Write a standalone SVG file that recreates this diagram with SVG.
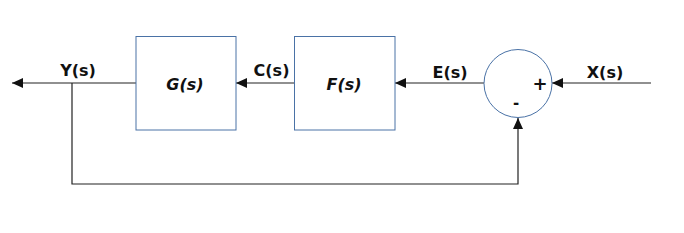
<svg xmlns="http://www.w3.org/2000/svg" width="684" height="233" viewBox="0 0 684 233">
<style>
.blk{fill:#fff;stroke:#4a72a6;stroke-width:1}
.ln{fill:none;stroke:#222;stroke-width:1.2}
.lbl{font-family:"DejaVu Sans",sans-serif;font-weight:bold;font-size:16px;fill:#111;text-anchor:middle}
.it{font-style:italic;font-size:16px}
</style>
<defs>
<marker id="ah" markerWidth="12" markerHeight="10" refX="11" refY="5" orient="auto" markerUnits="userSpaceOnUse">
<path d="M0,0 L11,5 L0,10 Z" fill="#111"/>
</marker>
</defs>
<rect width="684" height="233" fill="#fff"/>
<g id="connectors">
<line class="ln" x1="651" y1="83" x2="552" y2="83" marker-end="url(#ah)"/>
<line class="ln" x1="484" y1="83" x2="395" y2="83" marker-end="url(#ah)"/>
<line class="ln" x1="294" y1="83" x2="236" y2="83" marker-end="url(#ah)"/>
<line class="ln" x1="136" y1="83" x2="12" y2="83" marker-end="url(#ah)"/>
<polyline class="ln" points="72,83 72,184 518,184 518,118" marker-end="url(#ah)"/>
</g>
<g id="G">
<rect class="blk" x="136" y="36.5" width="100" height="93.5"/>
<text class="lbl it" x="185" y="89.5">G(s)</text>
</g>
<g id="F">
<rect class="blk" x="294.5" y="36.5" width="100.5" height="93.5"/>
<text class="lbl it" x="344" y="89.5">F(s)</text>
</g>
<g id="sum">
<circle class="blk" cx="518" cy="83.5" r="34"/>
<text x="540" y="89.5" font-family="DejaVu Sans,sans-serif" font-weight="bold" font-size="18" text-anchor="middle" fill="#111">+</text>
<text x="516" y="108" font-family="DejaVu Sans,sans-serif" font-weight="bold" font-size="15" text-anchor="middle" fill="#111">-</text>
</g>
<g id="labels">
<text class="lbl" x="78" y="75.5">Y(s)</text>
<text class="lbl" x="271.5" y="75.5">C(s)</text>
<text class="lbl" x="450" y="77.5">E(s)</text>
<text class="lbl" x="605" y="77.5">X(s)</text>
</g>
</svg>
